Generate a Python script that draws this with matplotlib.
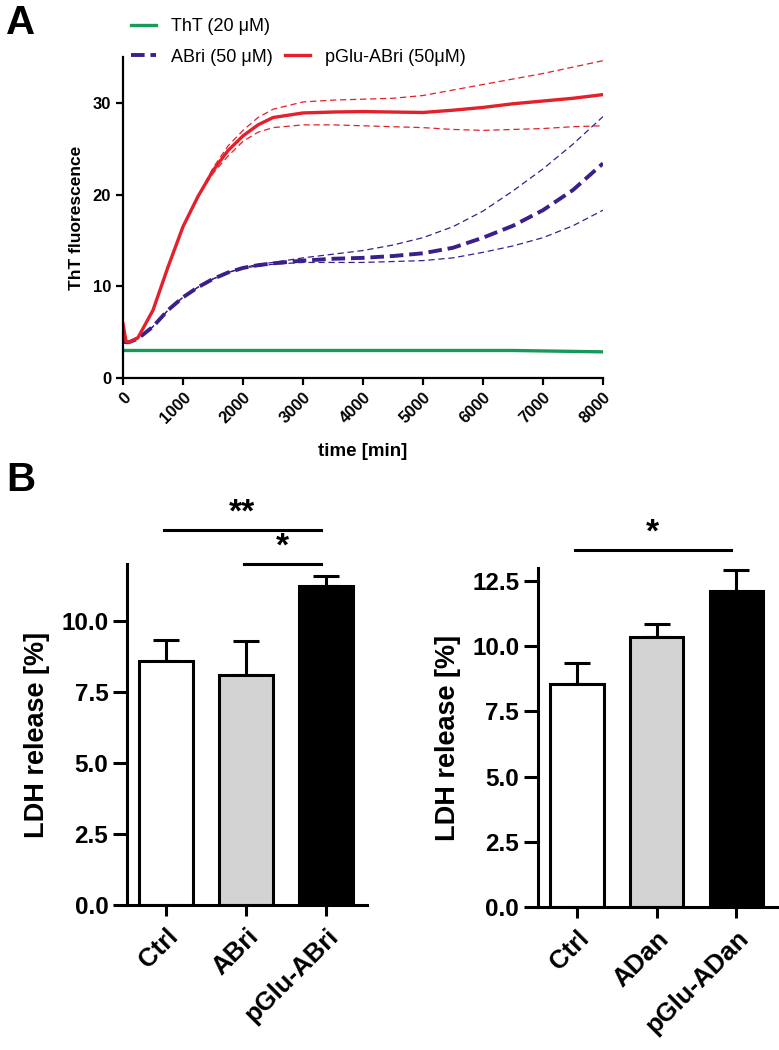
import matplotlib
matplotlib.use("Agg")
import matplotlib.pyplot as plt
from matplotlib.lines import Line2D
import numpy as np

plt.rcParams['font.family'] = ['Liberation Sans', 'DejaVu Sans']

# ---- panel A: ThT kinetics ----
t_min = [0, 50, 100, 250, 500, 750, 1000, 1250, 1500, 1750, 2000, 2250, 2500,
         3000, 3500, 4000, 4500, 5000, 5500, 6000, 6500, 7000, 7500, 8000]
tht_only = [3.0, 3.0, 3.0, 3.0, 3.0, 3.0, 3.0, 3.0, 3.0, 3.0, 3.0, 3.0, 3.0,
            3.0, 3.0, 3.0, 3.0, 3.0, 3.0, 3.0, 3.0, 2.95, 2.9, 2.85]
abri_mean = [4.0, 3.9, 3.9, 4.3, 5.6, 7.4, 8.8, 9.9, 10.8, 11.5, 12.0, 12.3, 12.5,
             12.8, 13.0, 13.1, 13.3, 13.6, 14.2, 15.3, 16.6, 18.3, 20.5, 23.4]
abri_upper = [4.0, 3.9, 3.9, 4.3, 5.6, 7.4, 8.8, 9.9, 10.8, 11.5, 12.0, 12.4, 12.6,
              13.1, 13.5, 13.9, 14.5, 15.3, 16.5, 18.2, 20.4, 22.8, 25.5, 28.5]
abri_lower = [4.0, 3.9, 3.9, 4.3, 5.6, 7.4, 8.8, 9.9, 10.8, 11.5, 12.0, 12.2, 12.4,
              12.6, 12.6, 12.6, 12.7, 12.8, 13.1, 13.7, 14.4, 15.3, 16.6, 18.3]
pglu_mean = [5.9, 4.0, 3.9, 4.4, 7.4, 12.1, 16.5, 19.8, 22.6, 24.8, 26.4, 27.6, 28.4,
             28.9, 29.0, 29.05, 29.0, 28.95, 29.2, 29.5, 29.9, 30.2, 30.5, 30.9]
pglu_upper = [5.9, 4.0, 3.9, 4.4, 7.4, 12.1, 16.5, 19.8, 22.9, 25.3, 27.0, 28.4, 29.3,
              30.1, 30.3, 30.4, 30.5, 30.8, 31.4, 32.0, 32.6, 33.2, 33.9, 34.6]
pglu_lower = [5.9, 4.0, 3.9, 4.4, 7.4, 12.1, 16.5, 19.8, 22.3, 24.2, 25.8, 26.8, 27.3,
              27.6, 27.6, 27.5, 27.4, 27.3, 27.1, 27.0, 27.1, 27.2, 27.4, 27.5]

# ---- panel B: LDH release ----
bri_groups = ['Ctrl', 'ABri', 'pGlu-ABri']
bri_ldh = [8.6, 8.08, 11.24]
bri_sem = [0.73, 1.21, 0.33]
dan_groups = ['Ctrl', 'ADan', 'pGlu-ADan']
dan_ldh = [8.57, 10.37, 12.12]
dan_sem = [0.78, 0.49, 0.82]
bar_colors = ['white', '#d3d3d3', 'black']

RED = '#e3202b'
BLUE = '#3b1f8a'
GREEN = '#17995a'

fig = plt.figure(figsize=(7.79, 10.5), dpi=100)
W, H = 779, 1050


def px_axes(l, t, r, b):
    return fig.add_axes([l / W, 1 - b / H, (r - l) / W, (b - t) / H])


axA = px_axes(123, 57, 603, 378)
axA.plot(t_min, tht_only, color=GREEN, lw=2.4)
axA.plot(t_min, abri_upper, color=BLUE, lw=0.9, dashes=(5, 3))
axA.plot(t_min, abri_lower, color=BLUE, lw=0.9, dashes=(5, 3))
axA.plot(t_min, abri_mean, color=BLUE, lw=2.8, dashes=(3.5, 1.5))
axA.plot(t_min, pglu_upper, color=RED, lw=0.9, dashes=(5, 3))
axA.plot(t_min, pglu_lower, color=RED, lw=0.9, dashes=(5, 3))
axA.plot(t_min, pglu_mean, color=RED, lw=2.4)
axA.set_xlim(0, 8000)
axA.set_ylim(0, 35)
axA.set_xticks(np.arange(0, 8001, 1000))
axA.set_yticks([0, 10, 20, 30])
for s in ['top', 'right']:
    axA.spines[s].set_visible(False)
for s in ['left', 'bottom']:
    axA.spines[s].set_linewidth(1.6)
axA.tick_params(width=1.6, length=5, labelsize=12)
for lab in axA.get_xticklabels():
    lab.set_rotation(45)
    lab.set_ha('right')
    lab.set_rotation_mode('anchor')
    lab.set_fontweight('bold')
for lab in axA.get_yticklabels():
    lab.set_fontweight('bold')
axA.set_xlabel('time [min]', fontsize=13.5, fontweight='bold', labelpad=12)
axA.set_ylabel('ThT fluorescence', fontsize=12.5, fontweight='bold', labelpad=6)

handles = [Line2D([], [], color=GREEN, lw=2.4),
           Line2D([], [], color=BLUE, lw=2.8, dashes=(3.5, 1.5)),
           Line2D([], [], color='none'),
           Line2D([], [], color=RED, lw=2.4)]
labels = ['ThT (20 μM)', 'ABri (50 μM)', '', 'pGlu-ABri (50μM)']
fig.legend(handles, labels, ncol=2, loc='upper left',
           bbox_to_anchor=(131 / W, 1 - 18 / H), frameon=False,
           fontsize=13, borderpad=0, borderaxespad=0, handlelength=1.4,
           handletextpad=0.8, columnspacing=0.7, labelspacing=0.75)


def bar_panel(ax, groups, vals, sems, ymax, step):
    x = np.arange(len(groups))
    ax.bar(x, vals, width=0.67, color=bar_colors, edgecolor='black',
           linewidth=2.2, zorder=2)
    ax.errorbar(x, vals, yerr=[np.zeros(len(sems)), sems], fmt='none',
                ecolor='black', elinewidth=2.2, capsize=9.5, capthick=2.2,
                zorder=1)
    ax.set_xlim(-0.49, 2.51)
    ax.set_ylim(0, ymax)
    ax.set_yticks(np.arange(0, ymax + 0.01, step))
    ax.yaxis.set_major_formatter(matplotlib.ticker.FormatStrFormatter('%.1f'))
    ax.set_xticks(x)
    ax.set_xticklabels(groups)
    for s in ['top', 'right']:
        ax.spines[s].set_visible(False)
    for s in ['left', 'bottom']:
        ax.spines[s].set_linewidth(2.2)
    ax.tick_params(axis='y', width=2.2, length=10, labelsize=17.5)
    ax.tick_params(axis='x', width=2.2, length=8, labelsize=18.5, pad=6)
    for lab in ax.get_xticklabels():
        lab.set_rotation(45)
        lab.set_ha('right')
        lab.set_rotation_mode('anchor')
        lab.set_fontweight('bold')
    for lab in ax.get_yticklabels():
        lab.set_fontweight('bold')
    ax.set_ylabel('LDH release [%]', fontsize=19.5, fontweight='bold', labelpad=8)


def sig(ax, i, j, y, text):
    ax.plot([i - 0.03, j - 0.07], [y, y], color='black', lw=2.2,
            clip_on=False)
    ax.text((i + j) / 2 - 0.05, y + 0.05, text, ha='center', va='bottom',
            fontsize=24, fontweight='bold', clip_on=False)


axB1 = px_axes(127, 564, 367, 905)
bar_panel(axB1, bri_groups, bri_ldh, bri_sem, 12.0, 2.5)
sig(axB1, 0, 2, 13.2, '**')
sig(axB1, 1, 2, 12.0, '*')

axB2 = px_axes(538, 568, 777, 907)
bar_panel(axB2, dan_groups, dan_ldh, dan_sem, 13.0, 2.5)
sig(axB2, 0, 2, 13.7, '*')

fig.text(6 / W, 1 - 4 / H, 'A', fontsize=29, fontweight='bold', va='top')
fig.text(6 / W, 1 - 461 / H, 'B', fontsize=29, fontweight='bold', va='top')

fig.savefig('out.png', dpi=100)
